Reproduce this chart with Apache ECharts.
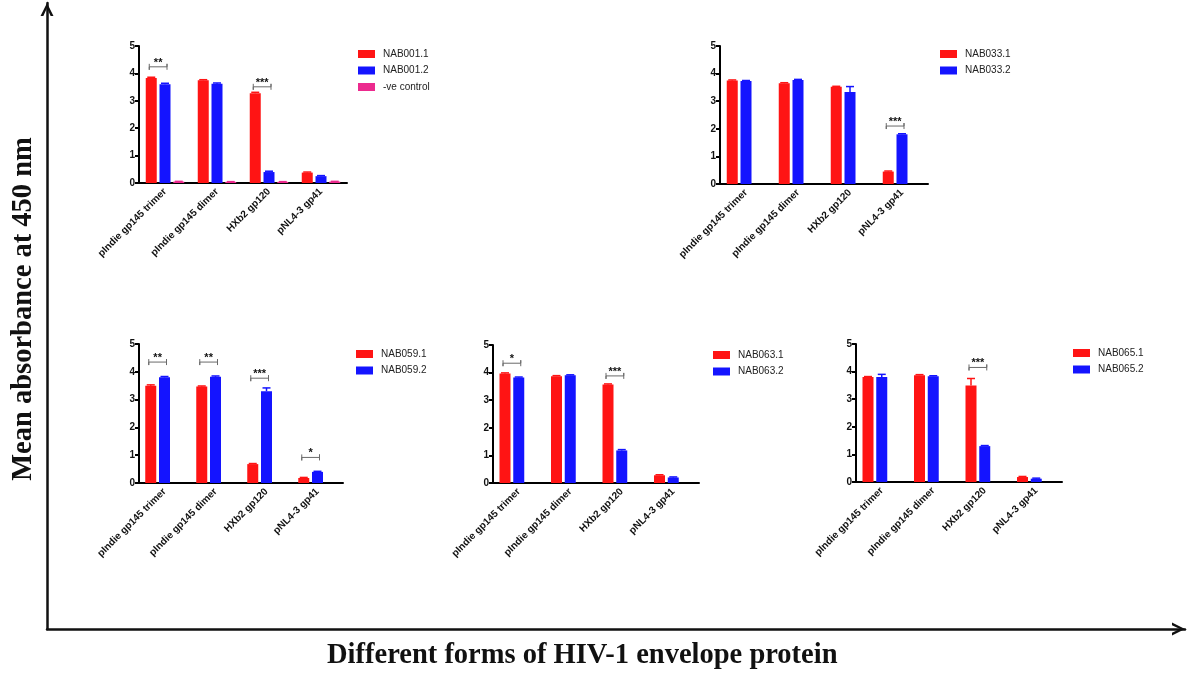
<!DOCTYPE html>
<html>
<head>
    <meta charset="utf-8">
    <script src="https://cdn.jsdelivr.net/npm/echarts@6/dist/echarts.min.js"></script>
    <style>
        html, body { margin: 0; padding: 0; background: #fff; }
        #chart { width: 1192px; height: 678px; }
    </style>
</head>
<body>
<div id="chart"></div>
<script>
    // categories shared by all five panels
    var categories = ['pIndie gp145 trimer', 'pIndie gp145 dimer', 'HXb2 gp120', 'pNL4-3 gp41'];
    var yTicks = [0, 1, 2, 3, 4, 5];

    // panel NAB001
    var nab001_1 = [3.83, 3.75, 3.28, 0.38];
    var nab001_2 = [3.60, 3.62, 0.40, 0.25];
    var control001 = [0.05, 0.04, 0.04, 0.05];
    var err001_1 = [0.03, 0.02, 0.03, 0.02];
    var err001_2 = [0.04, 0.03, 0.03, 0.02];
    var errControl001 = [0.01, 0.01, 0.01, 0.01];
    var sig001 = [[0, 4.24, '**'], [2, 3.51, '***']];

    // panel NAB033
    var nab033_1 = [3.75, 3.65, 3.52, 0.45];
    var nab033_2 = [3.73, 3.77, 3.33, 1.80];
    var err033_1 = [0.02, 0.02, 0.02, 0.02];
    var err033_2 = [0.02, 0.02, 0.20, 0.02];
    var sig033 = [[3, 2.10, '***']];

    // panel NAB059
    var nab059_1 = [3.50, 3.47, 0.68, 0.18];
    var nab059_2 = [3.80, 3.82, 3.30, 0.40];
    var err059_1 = [0.03, 0.02, 0.02, 0.02];
    var err059_2 = [0.03, 0.03, 0.12, 0.02];
    var sig059 = [[0, 4.35, '**'], [1, 4.35, '**'], [2, 3.77, '***'], [3, 0.92, '*']];

    // panel NAB063
    var nab063_1 = [3.97, 3.87, 3.57, 0.28];
    var nab063_2 = [3.82, 3.90, 1.18, 0.20];
    var err063_1 = [0.02, 0.02, 0.02, 0.02];
    var err063_2 = [0.02, 0.02, 0.03, 0.02];
    var sig063 = [[0, 4.34, '*'], [2, 3.88, '***']];

    // panel NAB065
    var nab065_1 = [3.80, 3.87, 3.50, 0.18];
    var nab065_2 = [3.80, 3.83, 1.30, 0.12];
    var err065_1 = [0.02, 0.02, 0.25, 0.02];
    var err065_2 = [0.10, 0.02, 0.02, 0.02];
    var sig065 = [[2, 4.15, '***']];

    var blank = [null, null, null, null];

    var RED = '#ff1414', BLUE = '#1414ff', PINK = '#ec2a8e';
    var COLORS = [RED, BLUE, PINK];
    var BAR_W = 11;
    var SLOT = 13.75;   // bar width + bar gap (25%)

    var panels = [
        {grid: {left: 139, top: 46, width: 208, height: 137}, legend: {left: 358, top: 48},
            series: [['NAB001.1', nab001_1, err001_1], ['NAB001.2', nab001_2, err001_2], ['-ve control', control001, errControl001]],
            sig: sig001},
        {grid: {left: 720, top: 46, width: 208, height: 138}, legend: {left: 940, top: 48},
            series: [['NAB033.1', nab033_1, err033_1], ['NAB033.2', nab033_2, err033_2], ['blank', blank, null]],
            sig: sig033},
        {grid: {left: 139, top: 344, width: 204, height: 139}, legend: {left: 356, top: 348},
            series: [['NAB059.1', nab059_1, err059_1], ['NAB059.2', nab059_2, err059_2], ['blank', blank, null]],
            sig: sig059},
        {grid: {left: 493, top: 345, width: 206, height: 138}, legend: {left: 713, top: 349},
            series: [['NAB063.1', nab063_1, err063_1], ['NAB063.2', nab063_2, err063_2], ['blank', blank, null]],
            sig: sig063},
        {grid: {left: 856, top: 344, width: 206, height: 138}, legend: {left: 1073, top: 347},
            series: [['NAB065.1', nab065_1, err065_1], ['NAB065.2', nab065_2, err065_2], ['blank', blank, null]],
            sig: sig065}
    ];

    var chart = echarts.init(document.getElementById('chart'), null, {renderer: 'canvas'});

    function errRenderer(slot, color) {
        return function (params, api) {
            var base = api.coord([api.value(0), api.value(1)]);
            var top = api.coord([api.value(0), api.value(1) + api.value(2)]);
            var x = base[0] + (slot - 1) * SLOT;
            return {
                type: 'group',
                children: [
                    {type: 'line', shape: {x1: x, y1: base[1], x2: x, y2: top[1]}, style: {stroke: color, lineWidth: 1.5}},
                    {type: 'line', shape: {x1: x - 4, y1: top[1], x2: x + 4, y2: top[1]}, style: {stroke: color, lineWidth: 1.5}}
                ]
            };
        };
    }

    function sigRenderer(sig) {
        return function (params, api) {
            var c = api.coord([api.value(0), api.value(1)]);
            var x0 = c[0] - SLOT - 2, x1 = c[0] + 2, y = c[1];
            return {
                type: 'group',
                children: [
                    {type: 'polyline', shape: {points: [[x0, y - 3], [x0, y + 3], [x0, y], [x1, y], [x1, y - 3], [x1, y + 3]]},
                        style: {stroke: '#6a6a6a', lineWidth: 1, fill: null}},
                    {type: 'text', x: (x0 + x1) / 2, y: y - 4,
                        style: {text: sig[params.dataIndex][2], fill: '#111', font: 'bold 11px Arial', align: 'center', verticalAlign: 'middle'}}
                ]
            };
        };
    }

    var grids = [], xAxes = [], yAxes = [], legends = [], series = [];

    panels.forEach(function (p, i) {
        grids.push(p.grid);
        xAxes.push({
            type: 'category', gridIndex: i, data: categories,
            axisLine: {lineStyle: {color: '#000', width: 2}},
            axisTick: {alignWithLabel: true, length: 4, lineStyle: {color: '#000', width: 2}},
            axisLabel: {interval: 0, rotate: 45, margin: 7, color: '#111', fontFamily: 'Arial', fontWeight: 'bold', fontSize: 10}
        });
        yAxes.push({
            type: 'value', gridIndex: i, min: yTicks[0], max: yTicks[yTicks.length - 1], interval: 1,
            axisLine: {show: true, lineStyle: {color: '#000', width: 2}},
            axisTick: {show: true, length: 4, lineStyle: {color: '#000', width: 2}},
            axisLabel: {margin: 4, color: '#111', fontFamily: 'Arial', fontWeight: 'bold', fontSize: 10},
            splitLine: {show: false}
        });
        var names = [];
        p.series.forEach(function (s, k) {
            if (s[0] !== 'blank') names.push(s[0]);
            series.push({
                name: s[0], type: 'bar', xAxisIndex: i, yAxisIndex: i, data: s[1],
                barWidth: BAR_W, barGap: '25%', itemStyle: {color: COLORS[k]}, silent: true
            });
            if (s[2]) {
                series.push({
                    type: 'custom', xAxisIndex: i, yAxisIndex: i, silent: true, z: 3,
                    data: s[1].map(function (v, j) { return [j, v, s[2][j]]; }),
                    renderItem: errRenderer(k, COLORS[k])
                });
            }
        });
        series.push({
            type: 'custom', xAxisIndex: i, yAxisIndex: i, silent: true, z: 4,
            data: p.sig.map(function (d) { return [d[0], d[1]]; }),
            renderItem: sigRenderer(p.sig)
        });
        legends.push({
            data: names, orient: 'vertical', left: p.legend.left, top: p.legend.top, padding: 0,
            icon: 'rect', itemWidth: 17, itemHeight: 8, itemGap: 4.5, selectedMode: false,
            textStyle: {fontFamily: 'Arial', fontSize: 10, color: '#222', lineHeight: 12, padding: [0, 0, 0, 3]}
        });
    });

    // the big outer axes with open arrow heads
    var arrowHead = 'path://M0,10 L5,0 L10,10 L7.8,10 L5,3.9 L2.2,10 Z';
    var outerLine = {show: true, onZero: false, symbol: ['none', arrowHead], symbolSize: [18, 13], symbolOffset: [0, -6.5],
        lineStyle: {color: '#111', width: 2.5}};
    grids.push({left: 47, right: 7, top: 3, bottom: 49});
    xAxes.push({
        type: 'value', gridIndex: 5, min: 0, max: 1, axisLine: outerLine,
        axisTick: {show: false}, axisLabel: {show: false}, splitLine: {show: false}
    });
    yAxes.push({
        type: 'value', gridIndex: 5, min: 0, max: 1, axisLine: outerLine,
        axisTick: {show: false}, axisLabel: {show: false}, splitLine: {show: false}
    });

    chart.setOption({
        animation: false,
        grid: grids,
        xAxis: xAxes,
        yAxis: yAxes,
        legend: legends,
        series: series,
        graphic: [
            {type: 'text', left: 327, top: 641,
                style: {text: 'Different forms of HIV-1 envelope protein', fill: '#111', font: 'bold 28.5px "Liberation Serif", "Times New Roman", serif'}},
            {type: 'text', x: 24, y: 309, rotation: Math.PI / 2,
                style: {text: 'Mean absorbance at 450 nm', fill: '#111', font: 'bold 28.5px "Liberation Serif", "Times New Roman", serif',
                    align: 'center', verticalAlign: 'middle'}}
        ]
    });
</script>
</body>
</html>
